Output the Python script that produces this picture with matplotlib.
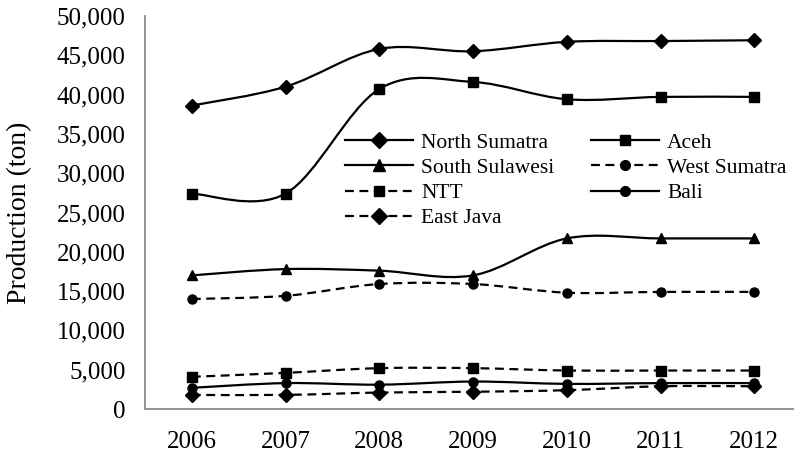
import matplotlib.pyplot as plt
from matplotlib.path import Path
from matplotlib.patches import PathPatch
from matplotlib.lines import Line2D
from matplotlib.ticker import FuncFormatter

plt.rcParams['font.family'] = ['Liberation Serif', 'DejaVu Serif']

years = [2006, 2007, 2008, 2009, 2010, 2011, 2012]

north_sumatra = [38600, 41000, 45800, 45500, 46700, 46800, 46900]
aceh = [27400, 27400, 40700, 41600, 39400, 39700, 39700]
south_sulawesi = [17000, 17800, 17600, 17000, 21700, 21700, 21700]
west_sumatra = [14000, 14400, 15900, 15900, 14800, 14900, 14900]
ntt = [4100, 4600, 5200, 5200, 4900, 4900, 4900]
bali = [2700, 3300, 3100, 3500, 3200, 3300, 3300]
east_java = [1800, 1800, 2100, 2200, 2400, 2900, 2900]

# name, values, marker, dashed?
series = [
    ("North Sumatra", north_sumatra, "D", False),
    ("Aceh", aceh, "s", False),
    ("South Sulawesi", south_sulawesi, "^", False),
    ("West Sumatra", west_sumatra, "o", True),
    ("NTT", ntt, "s", True),
    ("Bali", bali, "o", False),
    ("East Java", east_java, "D", True),
]

DASH = (0, (4, 2.5))
LW = 1.6


def smooth_path(xs, ys):
    # Excel-style smoothed line: cubic Bezier through every data point
    pts = list(zip(xs, ys))
    n = len(pts)
    verts = [pts[0]]
    codes = [Path.MOVETO]
    for i in range(n - 1):
        p0 = pts[i - 1] if i > 0 else pts[i]
        p1 = pts[i]
        p2 = pts[i + 1]
        p3 = pts[i + 2] if i + 2 < n else pts[i + 1]
        c1 = (p1[0] + (p2[0] - p0[0]) / 6, p1[1] + (p2[1] - p0[1]) / 6)
        c2 = (p2[0] - (p3[0] - p1[0]) / 6, p2[1] - (p3[1] - p1[1]) / 6)
        verts += [c1, c2, p2]
        codes += [Path.CURVE4] * 3
    return Path(verts, codes)


fig = plt.figure(figsize=(7.94, 4.54), dpi=100)
ax = fig.add_axes([0.1826, 0.099, 0.8264, 0.866])

handles = {}
for name, vals, mk, dashed in series:
    ls = DASH if dashed else "-"
    ax.add_patch(PathPatch(smooth_path(years, vals), facecolor="none",
                           edgecolor="black", lw=LW, linestyle=ls, zorder=2))
    ms = 6.5 if mk in ("s", "o") else 7.5
    ax.plot(years, vals, linestyle="none", marker=mk, color="black",
            markersize=ms, zorder=3)
    handles[name] = Line2D([], [], color="black", lw=LW, linestyle=ls,
                           marker=mk, markersize=ms + 0.5, label=name)

ax.set_xlim(2005.5, 2012.5)
ax.set_ylim(0, 50000)
ax.set_xticks(years)
ax.set_yticks(range(0, 50001, 5000))
ax.yaxis.set_major_formatter(FuncFormatter(lambda v, p: f"{int(v):,}"))
ax.tick_params(axis="both", length=0, labelsize=18)
ax.tick_params(axis="y", pad=14)
ax.tick_params(axis="x", pad=16)

for s in ["top", "right"]:
    ax.spines[s].set_visible(False)
for s in ["left", "bottom"]:
    ax.spines[s].set_color("#8c8c8c")
    ax.spines[s].set_linewidth(1.3)

ax.set_ylabel("Production (ton)", fontsize=20)
ax.yaxis.set_label_coords(-0.172, 0.5)

# legend filled column-wise, so order it to read row-wise like the original
order = ["North Sumatra", "South Sulawesi", "NTT", "East Java",
         "Aceh", "West Sumatra", "Bali"]
ax.legend(handles=[handles[k] for k in order], ncol=2, loc="upper left",
          bbox_to_anchor=(0.305, 0.703), frameon=False, fontsize=15.5,
          handlelength=3.16, handletextpad=0.37, columnspacing=1.7,
          labelspacing=0.24, borderaxespad=0, borderpad=0)

fig.savefig("out.png", dpi=100)
